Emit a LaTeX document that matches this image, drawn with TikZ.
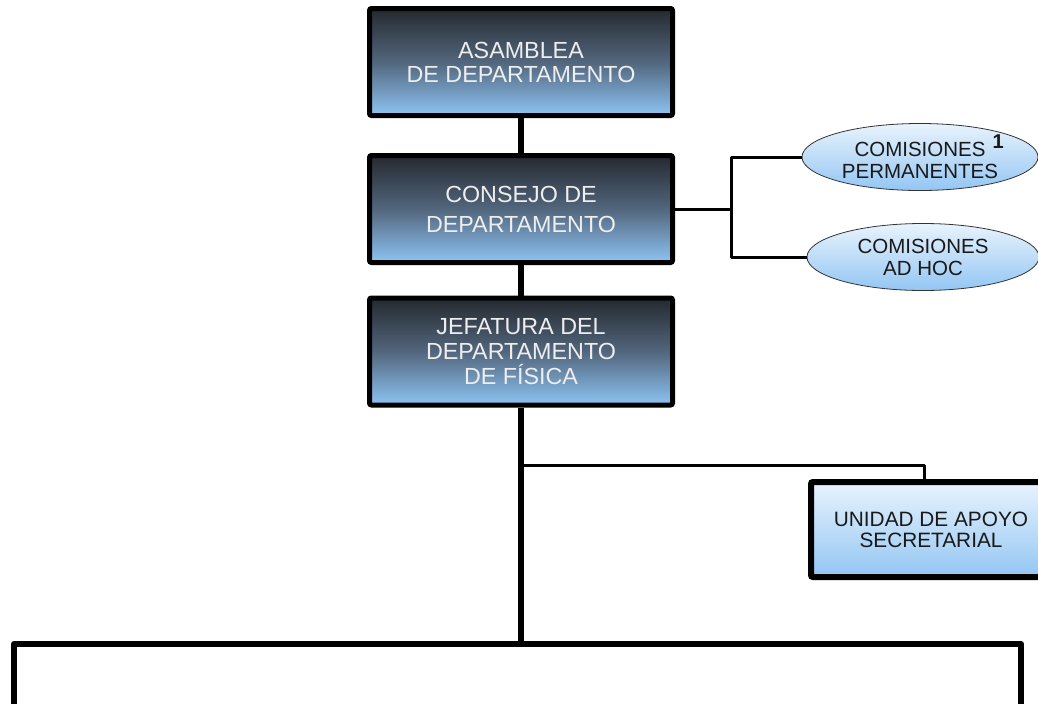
\documentclass[tikz,border=0pt]{standalone}
\usepackage{fontspec}
\setmainfont{Liberation Sans}
\usetikzlibrary{shapes.geometric}
\definecolor{dtop}{HTML}{25292F}
\definecolor{dmid}{HTML}{52667D}
\definecolor{dbot}{HTML}{8EC4F4}
\definecolor{ltop}{HTML}{E8F3FD}
\definecolor{lbot}{HTML}{93C6F3}
\definecolor{btext}{HTML}{EEEEEE}
\tikzset{
  darkbox/.style={draw=black, line width=5pt, rounded corners=2pt,
    top color=dtop, bottom color=dbot, middle color=dmid,
    minimum width=303pt, minimum height=107pt, inner sep=0pt,
    align=center, text=btext},
  comis/.style={ellipse, draw=black!80, line width=0.8pt,
    top color=ltop, bottom color=lbot, inner sep=0pt,
    align=center, text=black!90,
    font=\fontsize{20.5}{22}\selectfont},
  thickline/.style={line width=6pt},
  thinline/.style={line width=3pt, line join=round},
}
\begin{document}
\begin{tikzpicture}[x=1pt,y=-1pt]
\useasboundingbox (0,0) rectangle (1038,704);
\clip (0,0) rectangle (1038,704);
% boxes
\node[darkbox, font=\fontsize{23.3}{24}\selectfont] (asam) at (521,62) {ASAMBLEA\\DE DEPARTAMENTO};
\node[darkbox, font=\fontsize{23.3}{30}\selectfont] (cons) at (521,209) {CONSEJO DE\\DEPARTAMENTO};
\node[darkbox, font=\fontsize{23.3}{25}\selectfont] (jef) at (521,351.5) {JEFATURA DEL\\DEPARTAMENTO\\DE FÍSICA};
% ellipses
\node[comis, minimum width=236pt, minimum height=67pt] (com1) at (920,157) {COMISIONES\rlap{\hspace{7pt}\raisebox{8pt}{\bfseries\fontsize{20}{20}\selectfont 1}}\\PERMANENTES};
\node[comis, minimum width=232pt, minimum height=67pt] (com2) at (923,257) {COMISIONES\\AD HOC};
% unidad
\node[draw=black, line width=6pt, rounded corners=2pt, top color=ltop, bottom color=lbot,
  minimum width=240pt, minimum height=95pt, inner sep=0pt, align=center, text=black!90,
  font=\fontsize{20.8}{21}\selectfont] (uni) at (931,529.5) {UNIDAD DE APOYO\\SECRETARIAL};
% connectors
\coordinate (jbot) at (521,644);
\coordinate (bl) at (14,704);
\coordinate (br) at (1021,704);
\coordinate (cj) at (731,209);
\coordinate (uj) at (521,465);
\draw[thickline] (asam.south) -- (cons.north);
\draw[thickline] (cons.south) -- (jef.north);
\draw[thickline] (jef.south) -- (jbot);
\draw[thinline] (cons.east) -- (cj);
\draw[thinline] (cj) |- (com1.west);
\draw[thinline] (cj) |- (com2.west);
\draw[thinline] (uj) -| (uni.north -| 924.5,0);
\draw[thickline, line join=round] (bl) |- (jbot) -| (br);
\end{tikzpicture}
\end{document}
